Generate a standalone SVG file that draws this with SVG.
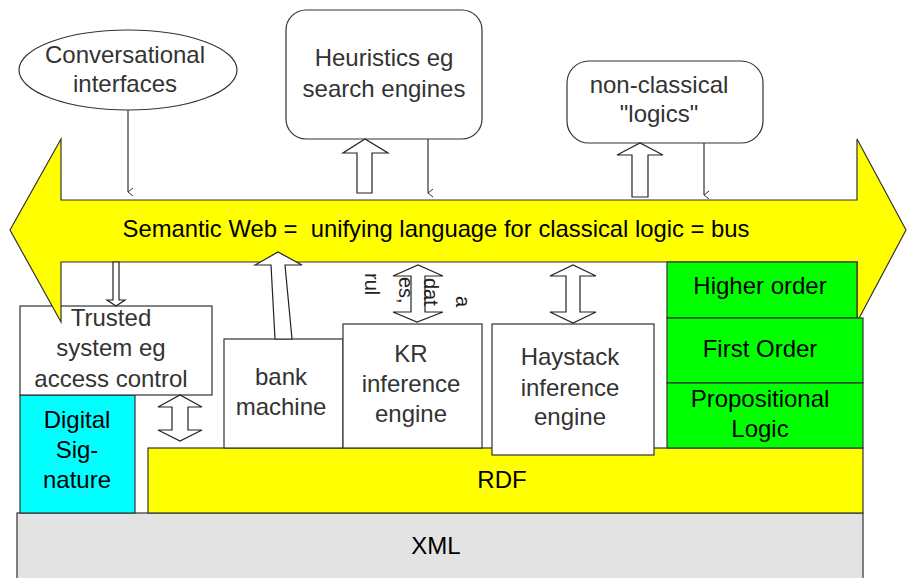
<svg xmlns="http://www.w3.org/2000/svg" width="907" height="578" viewBox="0 0 907 578">
<defs>
<marker id="ah" markerWidth="10" markerHeight="10" refX="5" refY="8" orient="auto-start-reverse" markerUnits="userSpaceOnUse" viewBox="0 0 10 10">
<path d="M1,3 L5,8 L9,3" fill="none" stroke="#333" stroke-width="1"/>
</marker>
</defs>
<style>
.box{fill:#fff;stroke:#333;stroke-width:1.2}
.t{font-family:"Liberation Sans",Arial,sans-serif;font-size:24px;fill:#333;text-anchor:middle}
.k{fill:#000}
.blk{fill:#fff;stroke:#222;stroke-width:1.2;stroke-linejoin:miter}
.ln{stroke:#333;stroke-width:1.2;fill:none}
.sm{font-family:"Liberation Sans",Arial,sans-serif;font-size:20px;fill:#222}
</style>
<rect width="907" height="578" fill="#fff"/>

<g id="xml"><rect x="17" y="513" width="846" height="70" fill="#e3e3e3" stroke="#333" stroke-width="1.2"/><text class="t k" x="436" y="554">XML</text></g>
<g id="rdf"><rect x="148" y="448" width="715" height="65" fill="#ffff00" stroke="#333" stroke-width="1.2"/><text class="t k" x="502" y="488">RDF</text></g>
<g id="digsig"><rect x="20" y="395" width="115" height="118" fill="#00ffff" stroke="#333" stroke-width="1.2"/><text class="t k" x="77" y="428">Digital</text><text class="t k" x="77" y="458">Sig-</text><text class="t k" x="77" y="488">nature</text></g>
<g id="trusted"><rect class="box" x="20" y="306" width="192" height="89"/><text class="t" x="111" y="326">Trusted</text><text class="t" x="111" y="356">system eg</text><text class="t" x="111" y="387">access control</text></g>
<g id="bank"><rect class="box" x="224" y="339" width="119" height="109"/><text class="t" x="281" y="385">bank</text><text class="t" x="281" y="415">machine</text></g>
<g id="kr"><rect class="box" x="343" y="324" width="139" height="124"/><text class="t" x="411" y="362">KR</text><text class="t" x="411" y="392">inference</text><text class="t" x="411" y="422">engine</text></g>
<g id="haystack"><rect class="box" x="492" y="324" width="162" height="131"/><text class="t" x="570" y="365">Haystack</text><text class="t" x="570" y="396">inference</text><text class="t" x="570" y="425">engine</text></g>

<g id="bus"><polygon points="10,230 61,139 61,200 857,200 857,139 906,230 857,322 857,262 61,262 61,322" fill="#ffff00" stroke="#333" stroke-width="1.2"/><text class="t k" x="436" y="237" textLength="627" lengthAdjust="spacingAndGlyphs" xml:space="preserve">Semantic Web =  unifying language for classical logic = bus</text></g>

<g id="higher"><rect x="667" y="262" width="190" height="56" fill="#00ff00" stroke="#333" stroke-width="1.2"/><text class="t k" x="760" y="294">Higher order</text></g>
<g id="first"><rect x="667" y="318" width="196" height="65" fill="#00ff00" stroke="#333" stroke-width="1.2"/><text class="t k" x="760" y="357">First Order</text></g>
<g id="prop"><rect x="667" y="383" width="196" height="65" fill="#00ff00" stroke="#333" stroke-width="1.2"/><text class="t k" x="760" y="407">Propositional</text><text class="t k" x="760" y="437">Logic</text></g>

<g id="conv"><ellipse cx="128" cy="70" rx="109" ry="40" fill="#fff" stroke="#333" stroke-width="1.2"/><text class="t" x="125" y="63">Conversational</text><text class="t" x="125" y="92">interfaces</text></g>
<g id="heur"><rect class="box" x="286" y="10" width="196" height="129" rx="20"/><text class="t" x="384" y="66">Heuristics eg</text><text class="t" x="384" y="97">search engines</text></g>
<g id="nonclass"><rect class="box" x="567" y="61" width="196" height="82" rx="22"/><text class="t" x="659" y="93">non-classical</text><text class="t" x="659" y="122">"logics"</text></g>

<g id="connectors">
<line class="ln" x1="128" y1="110" x2="128" y2="192" marker-end="url(#ah)"/>
<line class="ln" x1="428" y1="139" x2="428" y2="193" marker-end="url(#ah)"/>
<line class="ln" x1="704" y1="143" x2="704" y2="195" marker-end="url(#ah)"/>
<polygon class="blk" points="357,193 372,193 372,153 388,153 365,139 343,153 357,153"/>
<polygon class="blk" points="632,197 648,197 648,155 663,155 640,143 617,155 632,155"/>
<polygon class="blk" points="113,262 119,262 119,300 125,300 116,306 107,300 113,300"/>
<polygon class="blk" points="275,339 292,339 285,265 302,265 278,252 255,265 271,265"/>
<polygon class="blk" points="172,407 172,430 158,430 180,441 202,430 188,430 188,407 202,407 180,395 158,407"/>
<polygon class="blk" points="566,276 566,312 550,312 573,323 596,312 580,312 580,276 596,276 573,265 550,276"/>
<polygon class="blk" points="411,276 411,312 393,312 417,322 443,312 425,312 425,276 443,276 418,265 393,276"/>
<text class="sm" transform="translate(365,273) rotate(90)">rul</text>
<text class="sm" transform="translate(399,277) rotate(90)">es,</text>
<text class="sm" transform="translate(424,278) rotate(90)">dat</text>
<text class="sm" transform="translate(456,296) rotate(90)">a</text>
</g>
</svg>
